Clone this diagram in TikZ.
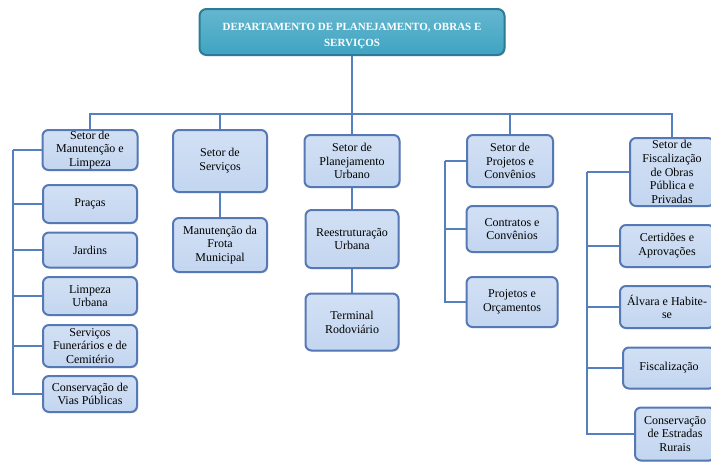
\documentclass[tikz,border=0pt]{standalone}
\usepackage{fontspec}
\setmainfont{Liberation Serif}
\usetikzlibrary{shadows}
\definecolor{boxfill}{HTML}{C3D6F0}
\definecolor{boxfilltop}{HTML}{D2E0F4}
\definecolor{boxline}{HTML}{5679B6}
\definecolor{linkcol}{HTML}{5580C0}
\definecolor{depfill}{HTML}{3FA4C2}
\definecolor{depline}{HTML}{2C7C95}
\tikzset{
  setor/.style={draw=boxline, line width=2pt, rounded corners=6pt,
    top color=boxfilltop, bottom color=boxfill, align=center, inner sep=0pt,
    font=\fontsize{12}{13.8}\selectfont,
    drop shadow={shadow xshift=1.2pt, shadow yshift=-1.2pt, opacity=0.25}},
  depto/.style={draw=depline, line width=2pt, rounded corners=7pt,
    top color=depfill!80!white, bottom color=depfill, align=center, text=white,
    font=\fontsize{11}{16}\selectfont\bfseries,
    drop shadow={shadow xshift=1.2pt, shadow yshift=-1.2pt, opacity=0.25}},
  link/.style={draw=linkcol, line width=2pt}
}
\begin{document}
\begin{tikzpicture}[x=1pt,y=-1pt]
\useasboundingbox (0,0) rectangle (711,461);
\clip (0,0) rectangle (711,461);
\node[depto, minimum width=305pt, minimum height=46pt] (dep) at (352,32) {\rule{0pt}{15pt}DEPARTAMENTO DE PLANEJAMENTO, OBRAS E\\SERVIÇOS};
% setores
\node[setor, minimum width=95pt, minimum height=40pt] (man) at (90,150) {Setor de\\Manutenção e\\Limpeza};
\node[setor, minimum width=94pt, minimum height=62pt] (serv) at (220,161) {Setor de\\Serviços};
\node[setor, minimum width=95pt, minimum height=52pt] (plan) at (352,161) {Setor de\\Planejamento\\Urbano};
\node[setor, minimum width=86pt, minimum height=52pt] (proj) at (510,161) {Setor de\\Projetos e\\Convênios};
\node[setor, minimum width=84pt, minimum height=68pt] (fisc) at (672,172) {Setor de\\Fiscalização\\de Obras\\Pública e\\Privadas};
% manutencao e limpeza
\node[setor, minimum width=94pt, minimum height=38pt] (praca) at (90,204) {Praças};
\node[setor, minimum width=94pt, minimum height=35pt] (jard) at (90,250) {Jardins};
\node[setor, minimum width=94pt, minimum height=38pt] (limp) at (90,296) {Limpeza\\Urbana};
\node[setor, minimum width=94pt, minimum height=42pt] (funer) at (90,346) {Serviços\\Funerários e de\\Cemitério};
\node[setor, minimum width=94pt, minimum height=36pt] (vias) at (90,394) {Conservação de\\Vias Públicas};
% servicos
\node[setor, minimum width=94pt, minimum height=54pt] (frota) at (220,245) {Manutenção da\\Frota\\Municipal};
% planejamento urbano
\node[setor, minimum width=93pt, minimum height=58pt] (reest) at (352,239) {Reestruturação\\Urbana};
\node[setor, minimum width=93pt, minimum height=57pt] (term) at (352,322) {Terminal\\Rodoviário};
% projetos e convenios
\node[setor, minimum width=91pt, minimum height=46pt] (contr) at (512,229) {Contratos e\\Convênios};
\node[setor, minimum width=91pt, minimum height=50pt] (orc) at (512,302) {Projetos e\\Orçamentos};
% fiscalizacao
\node[setor, minimum width=94pt, minimum height=42pt] (cert) at (667,246) {Certidões e\\Aprovações};
\node[setor, minimum width=94pt, minimum height=42pt] (alv) at (667,307) {Álvara e Habite-\\se};
\node[setor, minimum width=92pt, minimum height=41pt] (fiscz) at (669,368) {Fiscalização};
\node[setor, minimum width=80pt, minimum height=53pt] (cons) at (675,434) {Conservação\\de Estradas\\Rurais};
% ligacoes
\coordinate (bus) at (352,114);
\coordinate (sp1) at (13,150);
\coordinate (sp4) at (445,161);
\coordinate (sp5) at (587,172);
\draw[link] (dep.south) -- (plan.north);
\draw[link] (bus) -| (man.north);
\draw[link] (bus) -| (serv.north);
\draw[link] (bus) -| (proj.north);
\draw[link] (bus) -| (fisc.north);
\draw[link] (man.west) -- (sp1);
\foreach \n in {praca,jard,limp,funer,vias}
  \draw[link] (sp1) |- (\n.west);
\draw[link] (serv.south) -- (frota.north);
\draw[link] (plan.south) -- (reest.north);
\draw[link] (reest.south) -- (term.north);
\draw[link] (proj.west) -- (sp4);
\foreach \n in {contr,orc}
  \draw[link] (sp4) |- (\n.west);
\draw[link] (fisc.west) -- (sp5);
\foreach \n in {cert,alv,fiscz,cons}
  \draw[link] (sp5) |- (\n.west);
\end{tikzpicture}
\end{document}
